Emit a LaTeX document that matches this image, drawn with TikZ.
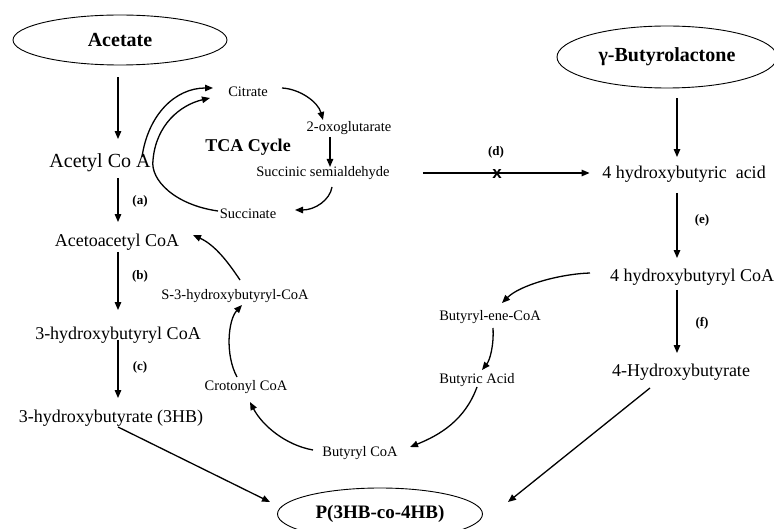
\documentclass[tikz,border=0pt]{standalone}
\usepackage{fontspec}
\setmainfont{Liberation Serif}
\setsansfont{Liberation Sans}
\usetikzlibrary{shapes.geometric,arrows.meta}
\begin{document}
\begin{tikzpicture}[x=1pt,y=-1pt,
  big/.style={font=\fontsize{18}{20}\selectfont, inner sep=0pt, text height=12.5pt, text depth=4pt},
  small/.style={font=\fontsize{14.5}{16}\selectfont, inner sep=0pt, text height=10pt, text depth=3pt},
  lbl/.style={font=\bfseries\fontsize{13}{15}\selectfont, inner sep=0pt},
  oval/.style={ellipse, draw, line width=0.9pt, inner sep=0pt, font=\bfseries\fontsize{20}{22}\selectfont},
  arr/.style={-{Triangle[length=8pt,width=6.5pt]}, line width=1.3pt},
]
\useasboundingbox (0,0) rectangle (774,529);

% ovals
\node[oval, minimum width=214pt, minimum height=50pt] (acetate) at (120,40) {Acetate};
\node[oval, minimum width=220pt, minimum height=62pt] (gbl) at (667,57) {γ-Butyrolactone};
\node[oval, minimum width=205pt, minimum height=52pt, font=\bfseries\fontsize{19}{21}\selectfont] (phb) at (380,514) {P(3HB-co-4HB)};

% left column
\node[big, font=\fontsize{20}{22}\selectfont, text height=14pt, text depth=4.5pt] (acetyl) at (100,163) {Acetyl Co A};
\node[big] (acac) at (117,242) {Acetoacetyl CoA};
\node[big] (hbcoa) at (118,335) {3-hydroxybutyryl CoA};
\node[big] (hb3) at (111,418) {3-hydroxybutyrate (3HB)};

% TCA cycle
\node[small] (citrate) at (248,93) {Citrate};
\node[small] (oxo) at (349,128) {2-oxoglutarate};
\node[small] (ssa) at (323,173) {Succinic semialdehyde};
\node[small] (succ) at (248,215) {Succinate};
\node[font=\bfseries\fontsize{18}{20}\selectfont, inner sep=0pt] (tca) at (248,147) {TCA Cycle};

% butyrate branch
\node[small] (s3hb) at (235,296) {S-3-hydroxybutyryl-CoA};
\node[small] (crot) at (246,387) {Crotonyl CoA};
\node[small] (bcoa) at (360,453) {Butyryl CoA};
\node[small] (bene) at (490,317) {Butyryl-ene-CoA};
\node[small] (bacid) at (477,380) {Butyric Acid};

% right column
\node[big] (hba4) at (684,174) {4 hydroxybutyric\ \ acid};
\node[big] (hbcoa4) at (692,277) {4 hydroxybutyryl CoA};
\node[big] (hb4) at (681,372) {4-Hydroxybutyrate};

% step labels
\node[lbl] (la) at (140,201) {(a)};
\node[lbl] (lb) at (140,276) {(b)};
\node[lbl] (lc) at (140,367) {(c)};
\node[lbl] (ld) at (496,152) {(d)};
\node[lbl] (le) at (702,220) {(e)};
\node[lbl] (lf) at (702,323) {(f)};
\node[font=\sffamily\bfseries\fontsize{17}{19}\selectfont, inner sep=0pt] (xmark) at (497,174) {x};

% left column arrows
\coordinate (colL) at (118,0);
\coordinate (colR) at (677,0);
\draw[arr, shorten <=12pt, shorten >=14.5pt] (acetate.south -| colL) -- (acetyl.north -| colL);
\draw[arr, shorten <=6pt, shorten >=11.5pt] (acetyl.south -| colL) -- (acac.north -| colL);
\draw[arr, shorten <=1.5pt, shorten >=16.5pt] (acac.south -| colL) -- (hbcoa.north -| colL);
\draw[arr, shorten <=-3.5pt, shorten >=11.5pt] (hbcoa.south -| colL) -- (hb3.north -| colL);

% right column arrows
\draw[arr, shorten <=10pt, shorten >=8.5pt] (gbl.south -| colR) -- (hba4.north -| colR);
\draw[arr, shorten <=10.5pt, shorten >=10.5pt] (hba4.south -| colR) -- (hbcoa4.north -| colR);
\draw[arr, shorten <=4.5pt, shorten >=10.5pt] (hbcoa4.south -| colR) -- (hb4.north -| colR);

% blocked arrow (d)
\draw[arr, shorten <=33pt, shorten >=12.5pt] (ssa.east) -- (hba4.west |- ssa.east);

% TCA arrows
\draw[arr] ([shift={(42,-6)}]acetyl.center) .. controls (148,115) and (175,88) .. ([shift={(-35,-5)}]citrate.center);
\draw[arr] ([shift={(-30,-4)}]succ.center) .. controls (175,205) and (150,180) .. (153,160)
   .. controls (156,125) and (180,105) .. ([shift={(-38,5)}]citrate.center);
\draw[arr] ([shift={(34,-5)}]citrate.center) .. controls (300,89) and (318,102) .. ([shift={(-26,-8)}]oxo.center);
\draw[arr] ([shift={(-19,9)}]oxo.center) -- ([shift={(7,-6)}]ssa.center);
\draw[arr] ([shift={(9,14)}]ssa.center) .. controls (330,200) and (315,210) .. ([shift={(47,-5)}]succ.center);

% butyrate branch arrows
\draw[arr] ([shift={(-102,-4)}]hbcoa4.center) .. controls (560,274) and (520,285) .. ([shift={(12,-14)}]bene.center);
\draw[arr] ([shift={(3,11)}]bene.center) .. controls (494,345) and (490,360) .. ([shift={(5,-10)}]bacid.center);
\draw[arr] ([shift={(0,7)}]bacid.center) .. controls (465,420) and (440,435) .. ([shift={(50,-6)}]bcoa.center);
\draw[arr] ([shift={(-47,-3)}]bcoa.center) .. controls (285,445) and (262,425) .. ([shift={(4,15)}]crot.center);
\draw[arr] ([shift={(-9,-10)}]crot.center) .. controls (225,355) and (228,320) .. ([shift={(7,9)}]s3hb.center);
\draw[arr] ([shift={(5,-16)}]s3hb.center) .. controls (228,262) and (215,245) .. ([shift={(76,-7)}]acac.center);

% to product
\draw[arr] ([shift={(7,9)}]hb3.center) -- ([shift={(-110,-12)}]phb.center);
\draw[arr] ([shift={(-31,16)}]hb4.center) -- ([shift={(128,-12)}]phb.center);
\end{tikzpicture}
\end{document}
